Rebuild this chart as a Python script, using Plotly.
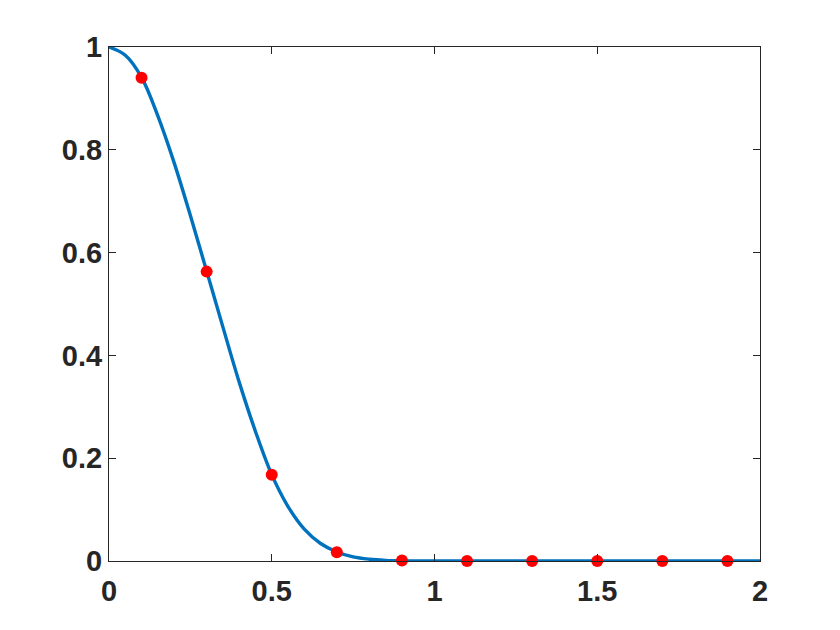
import plotly.graph_objects as go

# curve
curve_x = [0, 0.05, 0.1, 0.15, 0.2, 0.25, 0.3, 0.35, 0.4, 0.45, 0.5, 0.55,
           0.6, 0.65, 0.7, 0.75, 0.8, 0.85, 0.9, 0.95, 1.0, 1.5, 2.0]
curve_y = [1.0, 0.984, 0.941, 0.866, 0.775, 0.672, 0.564, 0.455, 0.348, 0.252,
           0.168, 0.106, 0.062, 0.034, 0.0176, 0.008, 0.0035, 0.0013, 0.0004,
           0.0001, 0, 0, 0]

# sample points
pts_x = [0.1, 0.3, 0.5, 0.7, 0.9, 1.1, 1.3, 1.5, 1.7, 1.9]
pts_y = [0.94, 0.563, 0.168, 0.017, 0.0008, 0, 0, 0, 0, 0]

x_ticks = [0, 0.5, 1, 1.5, 2]
y_ticks = [0, 0.2, 0.4, 0.6, 0.8, 1]

axis_color = '#262626'

fig = go.Figure()
fig.add_trace(go.Scatter(
    x=curve_x, y=curve_y, mode='lines',
    line=dict(color='#0072BD', width=3.4, shape='spline', smoothing=1),
    cliponaxis=False))
fig.add_trace(go.Scatter(
    x=pts_x, y=pts_y, mode='markers',
    marker=dict(color='#FF0000', size=12),
    cliponaxis=False))

axis_style = dict(
    showline=True, linecolor=axis_color, linewidth=1, mirror='ticks',
    ticks='inside', ticklen=7, tickcolor=axis_color, tickwidth=1,
    showgrid=False, zeroline=False,
    tickfont=dict(family='Liberation Sans', size=29, color=axis_color, weight='bold'),
)

fig.update_xaxes(range=[0, 2], tickvals=x_ticks, ticklabelstandoff=4, **axis_style)
fig.update_yaxes(range=[0, 1], tickvals=y_ticks, **axis_style)

# page body has an 8px margin, so the margins are shifted by that much
fig.update_layout(
    width=840, height=630,
    showlegend=False,
    plot_bgcolor='white',
    paper_bgcolor='white',
    font=dict(family='Liberation Sans', color=axis_color),
    margin=dict(l=101, r=88, t=39, b=77),
)

fig.write_html("out.html")
